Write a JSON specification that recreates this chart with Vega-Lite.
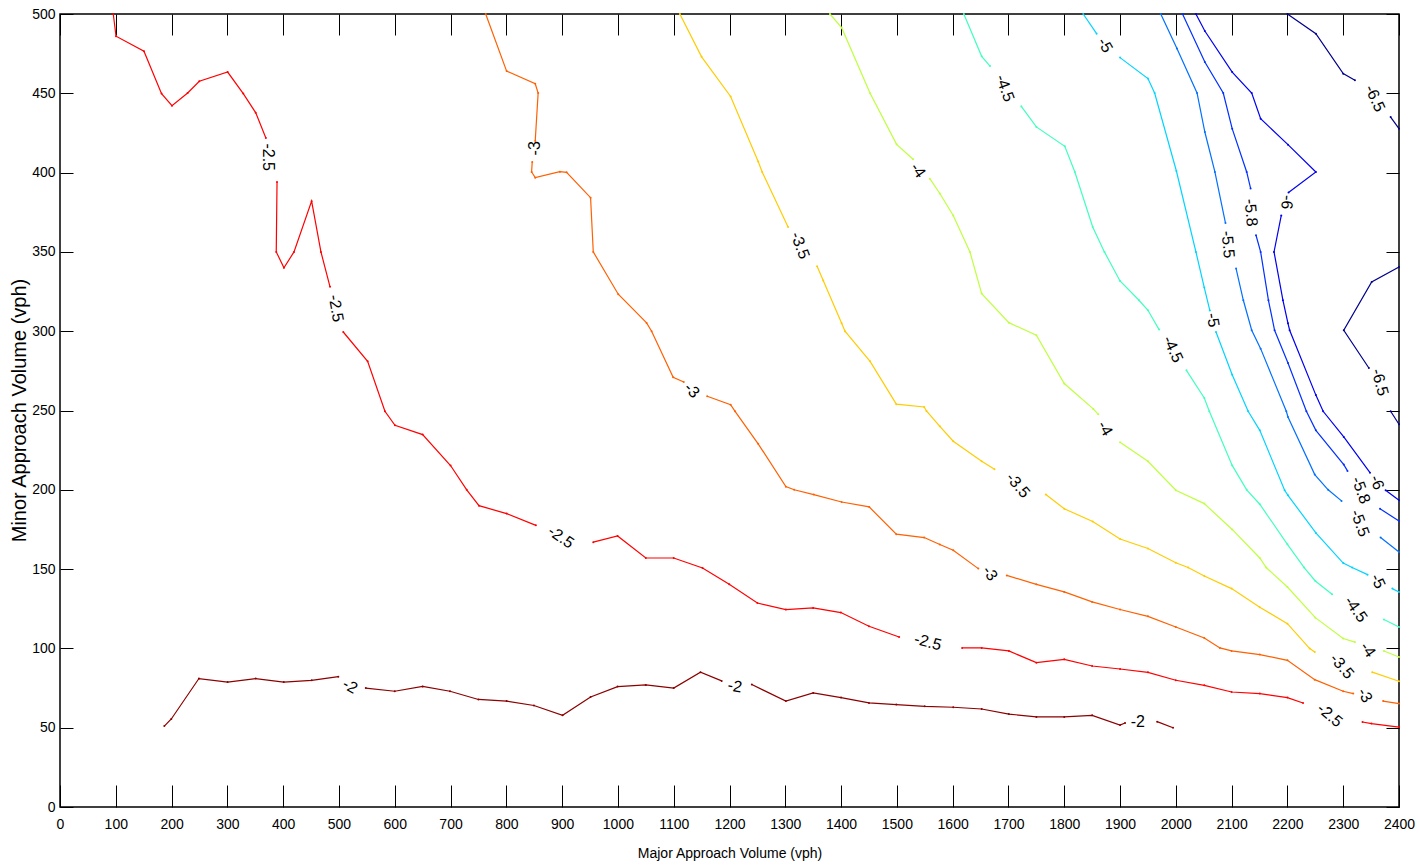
{
"$schema": "https://vega.github.io/schema/vega-lite/v6.json",
"width": 1339, "height": 793,
"autosize": {"type": "none"},
"padding": {"left": 60, "top": 14, "right": 21, "bottom": 60},
"background": "white",
"config": {"view": {"stroke": "black", "strokeWidth": 1.5}, "axis": {"grid": false, "domain": false, "tickColor": "black", "tickWidth": 1, "labelColor": "black", "titleColor": "black", "titleFontWeight": "normal"}},
"datasets": {
"lines": [
{"lv":"-2","s":"a","i":0,"x":187,"y":51},{"lv":"-2","s":"a","i":1,"x":199.5,"y":55.5},{"lv":"-2","s":"a","i":2,"x":249,"y":81},{"lv":"-2","s":"a","i":3,"x":300.5,"y":78.8},{"lv":"-2","s":"a","i":4,"x":350.7,"y":81},{"lv":"-2","s":"a","i":5,"x":401,"y":78.8},{"lv":"-2","s":"a","i":6,"x":451,"y":79.9},{"lv":"-2","s":"a","i":7,"x":498.8,"y":82.2},
{"lv":"-2","s":"b","i":0,"x":548,"y":75},{"lv":"-2","s":"b","i":1,"x":600,"y":73},{"lv":"-2","s":"b","i":2,"x":650,"y":76},{"lv":"-2","s":"b","i":3,"x":699,"y":73},{"lv":"-2","s":"b","i":4,"x":750,"y":67.8},{"lv":"-2","s":"b","i":5,"x":800.5,"y":66.8},{"lv":"-2","s":"b","i":6,"x":849.5,"y":64},{"lv":"-2","s":"b","i":7,"x":900.8,"y":57.8},{"lv":"-2","s":"b","i":8,"x":951,"y":69.4},{"lv":"-2","s":"b","i":9,"x":999.4,"y":75.9},{"lv":"-2","s":"b","i":10,"x":1050,"y":77},{"lv":"-2","s":"b","i":11,"x":1100,"y":75},{"lv":"-2","s":"b","i":12,"x":1148,"y":85},{"lv":"-2","s":"b","i":13,"x":1186,"y":79.5},
{"lv":"-2","s":"c","i":0,"x":1240,"y":77.2},{"lv":"-2","s":"c","i":1,"x":1301,"y":66.8},{"lv":"-2","s":"c","i":2,"x":1350,"y":71.9},{"lv":"-2","s":"c","i":3,"x":1400,"y":69},{"lv":"-2","s":"c","i":4,"x":1450,"y":65.6},{"lv":"-2","s":"c","i":5,"x":1499,"y":64.6},{"lv":"-2","s":"c","i":6,"x":1550,"y":63.5},{"lv":"-2","s":"c","i":7,"x":1601,"y":62.9},{"lv":"-2","s":"c","i":8,"x":1652,"y":61.8},{"lv":"-2","s":"c","i":9,"x":1700.7,"y":58.6},{"lv":"-2","s":"c","i":10,"x":1750,"y":56.8},{"lv":"-2","s":"c","i":11,"x":1800,"y":56.8},{"lv":"-2","s":"c","i":12,"x":1850,"y":57.8},{"lv":"-2","s":"c","i":13,"x":1900,"y":51.7},{"lv":"-2","s":"c","i":14,"x":1909,"y":53},
{"lv":"-2","s":"d","i":0,"x":1966.5,"y":53.8},{"lv":"-2","s":"d","i":1,"x":1995,"y":50},

{"lv":"-2.5","s":"a","i":0,"x":95.5,"y":500},{"lv":"-2.5","s":"a","i":1,"x":100.4,"y":486},{"lv":"-2.5","s":"a","i":2,"x":150.5,"y":476.5},{"lv":"-2.5","s":"a","i":3,"x":182,"y":449.8},{"lv":"-2.5","s":"a","i":4,"x":200.7,"y":442.2},{"lv":"-2.5","s":"a","i":5,"x":228.8,"y":450.2},{"lv":"-2.5","s":"a","i":6,"x":249.7,"y":457.6},{"lv":"-2.5","s":"a","i":7,"x":300.5,"y":463.4},{"lv":"-2.5","s":"a","i":8,"x":328.5,"y":449.8},{"lv":"-2.5","s":"a","i":9,"x":350.7,"y":437.8},{"lv":"-2.5","s":"a","i":10,"x":369,"y":421.8},
{"lv":"-2.5","s":"b","i":0,"x":389,"y":394},{"lv":"-2.5","s":"b","i":1,"x":387.6,"y":350},{"lv":"-2.5","s":"b","i":2,"x":401.4,"y":340},{"lv":"-2.5","s":"b","i":3,"x":419.4,"y":350},{"lv":"-2.5","s":"b","i":4,"x":451,"y":382},{"lv":"-2.5","s":"b","i":5,"x":467.7,"y":350},{"lv":"-2.5","s":"b","i":6,"x":484,"y":328},
{"lv":"-2.5","s":"c","i":0,"x":507.7,"y":299.5},{"lv":"-2.5","s":"c","i":1,"x":551.4,"y":281},{"lv":"-2.5","s":"c","i":2,"x":582.4,"y":249.5},{"lv":"-2.5","s":"c","i":3,"x":600.4,"y":240.7},{"lv":"-2.5","s":"c","i":4,"x":650,"y":234.8},{"lv":"-2.5","s":"c","i":5,"x":700,"y":215.3},{"lv":"-2.5","s":"c","i":6,"x":729,"y":200},{"lv":"-2.5","s":"c","i":7,"x":751,"y":190},{"lv":"-2.5","s":"c","i":8,"x":800.5,"y":185},{"lv":"-2.5","s":"c","i":9,"x":853,"y":177.6},
{"lv":"-2.5","s":"d","i":0,"x":955.8,"y":167},{"lv":"-2.5","s":"d","i":1,"x":999.4,"y":170.9},{"lv":"-2.5","s":"d","i":2,"x":1050,"y":157},{"lv":"-2.5","s":"d","i":3,"x":1100,"y":157},{"lv":"-2.5","s":"d","i":4,"x":1151.7,"y":150.7},{"lv":"-2.5","s":"d","i":5,"x":1199.5,"y":140.4},{"lv":"-2.5","s":"d","i":6,"x":1250,"y":128.6},{"lv":"-2.5","s":"d","i":7,"x":1301,"y":124.5},{"lv":"-2.5","s":"d","i":8,"x":1350,"y":125.5},{"lv":"-2.5","s":"d","i":9,"x":1399.6,"y":122.6},{"lv":"-2.5","s":"d","i":10,"x":1450,"y":114},{"lv":"-2.5","s":"d","i":11,"x":1504,"y":107.2},
{"lv":"-2.5","s":"e","i":0,"x":1617,"y":100.3},{"lv":"-2.5","s":"e","i":1,"x":1652,"y":100.3},{"lv":"-2.5","s":"e","i":2,"x":1700.7,"y":98.4},{"lv":"-2.5","s":"e","i":3,"x":1750,"y":91},{"lv":"-2.5","s":"e","i":4,"x":1800,"y":93.1},{"lv":"-2.5","s":"e","i":5,"x":1850,"y":88.9},{"lv":"-2.5","s":"e","i":6,"x":1900,"y":87},{"lv":"-2.5","s":"e","i":7,"x":1950,"y":84.9},{"lv":"-2.5","s":"e","i":8,"x":2000,"y":79.9},{"lv":"-2.5","s":"e","i":9,"x":2051,"y":76.7},{"lv":"-2.5","s":"e","i":10,"x":2100,"y":72.5},{"lv":"-2.5","s":"e","i":11,"x":2150.5,"y":71.5},{"lv":"-2.5","s":"e","i":12,"x":2200,"y":69},{"lv":"-2.5","s":"e","i":13,"x":2228,"y":65.6},
{"lv":"-2.5","s":"f","i":0,"x":2334.6,"y":53.6},{"lv":"-2.5","s":"f","i":1,"x":2350.7,"y":52.6},{"lv":"-2.5","s":"f","i":2,"x":2400,"y":50.4},

{"lv":"-3","s":"a","i":0,"x":763,"y":500},{"lv":"-3","s":"a","i":1,"x":800.5,"y":464},{"lv":"-3","s":"a","i":2,"x":851.8,"y":456},{"lv":"-3","s":"a","i":3,"x":857,"y":450.2},{"lv":"-3","s":"a","i":4,"x":851.8,"y":420},
{"lv":"-3","s":"b","i":0,"x":846.4,"y":406.7},{"lv":"-3","s":"b","i":1,"x":845.3,"y":400.4},{"lv":"-3","s":"b","i":2,"x":851.8,"y":396.8},{"lv":"-3","s":"b","i":3,"x":896,"y":400.6},{"lv":"-3","s":"b","i":4,"x":908,"y":400.2},{"lv":"-3","s":"b","i":5,"x":951,"y":384.2},{"lv":"-3","s":"b","i":6,"x":955.8,"y":350},{"lv":"-3","s":"b","i":7,"x":1000.6,"y":323.3},{"lv":"-3","s":"b","i":8,"x":1051.4,"y":305.2},{"lv":"-3","s":"b","i":9,"x":1060.4,"y":300},{"lv":"-3","s":"b","i":10,"x":1099,"y":271},{"lv":"-3","s":"b","i":11,"x":1118,"y":268},
{"lv":"-3","s":"c","i":0,"x":1160,"y":259},{"lv":"-3","s":"c","i":1,"x":1202,"y":253.7},{"lv":"-3","s":"c","i":2,"x":1210,"y":249.5},{"lv":"-3","s":"c","i":3,"x":1251.4,"y":229},{"lv":"-3","s":"c","i":4,"x":1301,"y":202},{"lv":"-3","s":"c","i":5,"x":1316,"y":200},{"lv":"-3","s":"c","i":6,"x":1351,"y":197},{"lv":"-3","s":"c","i":7,"x":1401,"y":192.3},{"lv":"-3","s":"c","i":8,"x":1450.4,"y":189.2},{"lv":"-3","s":"c","i":9,"x":1499,"y":172},{"lv":"-3","s":"c","i":10,"x":1549,"y":169.9},{"lv":"-3","s":"c","i":11,"x":1577,"y":165.5},{"lv":"-3","s":"c","i":12,"x":1601,"y":161.9},{"lv":"-3","s":"c","i":13,"x":1646,"y":150.3},
{"lv":"-3","s":"d","i":0,"x":1697,"y":146},{"lv":"-3","s":"d","i":1,"x":1750,"y":140.4},{"lv":"-3","s":"d","i":2,"x":1800,"y":135.6},{"lv":"-3","s":"d","i":3,"x":1850,"y":129.3},{"lv":"-3","s":"d","i":4,"x":1900,"y":124.5},{"lv":"-3","s":"d","i":5,"x":1950,"y":120.2},{"lv":"-3","s":"d","i":6,"x":2000,"y":113.5},{"lv":"-3","s":"d","i":7,"x":2051,"y":106.6},{"lv":"-3","s":"d","i":8,"x":2079,"y":100.3},{"lv":"-3","s":"d","i":9,"x":2100,"y":98.4},{"lv":"-3","s":"d","i":10,"x":2150.5,"y":96.1},{"lv":"-3","s":"d","i":11,"x":2200,"y":92.5},{"lv":"-3","s":"d","i":12,"x":2249,"y":80.3},{"lv":"-3","s":"d","i":13,"x":2300,"y":73},{"lv":"-3","s":"d","i":14,"x":2318,"y":71.5},
{"lv":"-3","s":"e","i":0,"x":2371.5,"y":66.8},{"lv":"-3","s":"e","i":1,"x":2400,"y":65.2},

{"lv":"-3.5","s":"a","i":0,"x":1111,"y":500},{"lv":"-3.5","s":"a","i":1,"x":1150,"y":473},{"lv":"-3.5","s":"a","i":2,"x":1202,"y":448},{"lv":"-3.5","s":"a","i":3,"x":1251.4,"y":407},{"lv":"-3.5","s":"a","i":4,"x":1258.6,"y":400.4},{"lv":"-3.5","s":"a","i":5,"x":1305,"y":365.7},
{"lv":"-3.5","s":"b","i":0,"x":1357,"y":341},{"lv":"-3.5","s":"b","i":1,"x":1368,"y":332},{"lv":"-3.5","s":"b","i":2,"x":1401,"y":305},{"lv":"-3.5","s":"b","i":3,"x":1407,"y":300},{"lv":"-3.5","s":"b","i":4,"x":1452,"y":281},{"lv":"-3.5","s":"b","i":5,"x":1499,"y":254},{"lv":"-3.5","s":"b","i":6,"x":1549,"y":252.2},{"lv":"-3.5","s":"b","i":7,"x":1553,"y":249.7},{"lv":"-3.5","s":"b","i":8,"x":1577,"y":240},{"lv":"-3.5","s":"b","i":9,"x":1601,"y":230.6},{"lv":"-3.5","s":"b","i":10,"x":1652,"y":218},{"lv":"-3.5","s":"b","i":11,"x":1675,"y":213},
{"lv":"-3.5","s":"c","i":0,"x":1767,"y":197},{"lv":"-3.5","s":"c","i":1,"x":1800,"y":188},{"lv":"-3.5","s":"c","i":2,"x":1851,"y":180},{"lv":"-3.5","s":"c","i":3,"x":1900,"y":169},{"lv":"-3.5","s":"c","i":4,"x":1950,"y":163},{"lv":"-3.5","s":"c","i":5,"x":2000,"y":154},{"lv":"-3.5","s":"c","i":6,"x":2022,"y":151},{"lv":"-3.5","s":"c","i":7,"x":2051,"y":145.7},{"lv":"-3.5","s":"c","i":8,"x":2100,"y":137.7},{"lv":"-3.5","s":"c","i":9,"x":2150.5,"y":126},{"lv":"-3.5","s":"c","i":10,"x":2200,"y":115.6},{"lv":"-3.5","s":"c","i":11,"x":2240,"y":99.9},{"lv":"-3.5","s":"c","i":12,"x":2249,"y":97.7},
{"lv":"-3.5","s":"d","i":0,"x":2352,"y":85},{"lv":"-3.5","s":"d","i":1,"x":2400,"y":79.3},

{"lv":"-4","s":"a","i":0,"x":1380,"y":500},{"lv":"-4","s":"a","i":1,"x":1401,"y":491.4},{"lv":"-4","s":"a","i":2,"x":1452,"y":450},{"lv":"-4","s":"a","i":3,"x":1499.5,"y":417.8},{"lv":"-4","s":"a","i":4,"x":1529,"y":408.4},
{"lv":"-4","s":"b","i":0,"x":1559,"y":396.2},{"lv":"-4","s":"b","i":1,"x":1577,"y":386.8},{"lv":"-4","s":"b","i":2,"x":1601,"y":373},{"lv":"-4","s":"b","i":3,"x":1631,"y":350},{"lv":"-4","s":"b","i":4,"x":1652,"y":323.7},{"lv":"-4","s":"b","i":5,"x":1700.7,"y":305.4},{"lv":"-4","s":"b","i":6,"x":1750,"y":297.4},{"lv":"-4","s":"b","i":7,"x":1800,"y":267},{"lv":"-4","s":"b","i":8,"x":1852,"y":251},{"lv":"-4","s":"b","i":9,"x":1861,"y":247.6},
{"lv":"-4","s":"c","i":0,"x":1900,"y":230},{"lv":"-4","s":"c","i":1,"x":1950,"y":218},{"lv":"-4","s":"c","i":2,"x":2000,"y":199.7},{"lv":"-4","s":"c","i":3,"x":2051,"y":191.3},{"lv":"-4","s":"c","i":4,"x":2101,"y":175},{"lv":"-4","s":"c","i":5,"x":2150.5,"y":157},{"lv":"-4","s":"c","i":6,"x":2162,"y":151},{"lv":"-4","s":"c","i":7,"x":2200,"y":138.7},{"lv":"-4","s":"c","i":8,"x":2250,"y":119.4},{"lv":"-4","s":"c","i":9,"x":2300,"y":106.2},{"lv":"-4","s":"c","i":10,"x":2321,"y":104},
{"lv":"-4","s":"d","i":0,"x":2373,"y":98.4},{"lv":"-4","s":"d","i":1,"x":2400,"y":94.6},

{"lv":"-4.5","s":"a","i":0,"x":1620,"y":500},{"lv":"-4.5","s":"a","i":1,"x":1652,"y":473.3},{"lv":"-4.5","s":"a","i":2,"x":1667,"y":467.2},
{"lv":"-4.5","s":"b","i":0,"x":1723,"y":441.8},{"lv":"-4.5","s":"b","i":1,"x":1750,"y":428.8},{"lv":"-4.5","s":"b","i":2,"x":1801,"y":416.6},{"lv":"-4.5","s":"b","i":3,"x":1819,"y":400.4},{"lv":"-4.5","s":"b","i":4,"x":1851,"y":365.7},{"lv":"-4.5","s":"b","i":5,"x":1872,"y":350},{"lv":"-4.5","s":"b","i":6,"x":1900,"y":331.7},{"lv":"-4.5","s":"b","i":7,"x":1934,"y":319.5},{"lv":"-4.5","s":"b","i":8,"x":1950,"y":313.2},{"lv":"-4.5","s":"b","i":9,"x":1970,"y":301},
{"lv":"-4.5","s":"c","i":0,"x":2019,"y":275.3},{"lv":"-4.5","s":"c","i":1,"x":2051,"y":257.9},{"lv":"-4.5","s":"c","i":2,"x":2060,"y":249.5},{"lv":"-4.5","s":"c","i":3,"x":2101,"y":215.4},{"lv":"-4.5","s":"c","i":4,"x":2127,"y":200},{"lv":"-4.5","s":"c","i":5,"x":2150.5,"y":190.9},{"lv":"-4.5","s":"c","i":6,"x":2200,"y":165.6},{"lv":"-4.5","s":"c","i":7,"x":2230,"y":151},{"lv":"-4.5","s":"c","i":8,"x":2250,"y":142.5},{"lv":"-4.5","s":"c","i":9,"x":2280,"y":134.1},
{"lv":"-4.5","s":"d","i":0,"x":2373,"y":118.2},{"lv":"-4.5","s":"d","i":1,"x":2400,"y":113.5},

{"lv":"-5","s":"a","i":0,"x":1834,"y":500},{"lv":"-5","s":"a","i":1,"x":1858,"y":487.6},
{"lv":"-5","s":"b","i":0,"x":1900,"y":472.5},{"lv":"-5","s":"b","i":1,"x":1950,"y":459.3},{"lv":"-5","s":"b","i":2,"x":1962,"y":450.2},{"lv":"-5","s":"b","i":3,"x":2001,"y":401},{"lv":"-5","s":"b","i":4,"x":2036,"y":350},{"lv":"-5","s":"b","i":5,"x":2051,"y":327.5},{"lv":"-5","s":"b","i":6,"x":2061,"y":313},
{"lv":"-5","s":"c","i":0,"x":2072,"y":299.5},{"lv":"-5","s":"c","i":1,"x":2101,"y":272.6},{"lv":"-5","s":"c","i":2,"x":2129.6,"y":249.5},{"lv":"-5","s":"c","i":3,"x":2150.5,"y":237.5},{"lv":"-5","s":"c","i":4,"x":2195,"y":199.7},{"lv":"-5","s":"c","i":5,"x":2201,"y":196.5},{"lv":"-5","s":"c","i":6,"x":2251,"y":172.8},{"lv":"-5","s":"c","i":7,"x":2300,"y":153.8},{"lv":"-5","s":"c","i":8,"x":2316,"y":151},{"lv":"-5","s":"c","i":9,"x":2343.6,"y":146.5},
{"lv":"-5","s":"d","i":0,"x":2388,"y":137.7},{"lv":"-5","s":"d","i":1,"x":2400,"y":135.6},

{"lv":"-5.5","s":"a","i":0,"x":1973,"y":500},{"lv":"-5.5","s":"a","i":1,"x":2002,"y":478.2},{"lv":"-5.5","s":"a","i":2,"x":2038,"y":450.2},{"lv":"-5.5","s":"a","i":3,"x":2052,"y":425.6},{"lv":"-5.5","s":"a","i":4,"x":2070,"y":400.4},{"lv":"-5.5","s":"a","i":5,"x":2089,"y":368.2},
{"lv":"-5.5","s":"b","i":0,"x":2108,"y":339.5},{"lv":"-5.5","s":"b","i":1,"x":2121,"y":319.5},{"lv":"-5.5","s":"b","i":2,"x":2136,"y":300.6},{"lv":"-5.5","s":"b","i":3,"x":2152,"y":289},{"lv":"-5.5","s":"b","i":4,"x":2198,"y":249.5},{"lv":"-5.5","s":"b","i":5,"x":2201,"y":245.9},{"lv":"-5.5","s":"b","i":6,"x":2249,"y":209.6},{"lv":"-5.5","s":"b","i":7,"x":2273,"y":200},{"lv":"-5.5","s":"b","i":8,"x":2297,"y":193},
{"lv":"-5.5","s":"c","i":0,"x":2367,"y":169.9},{"lv":"-5.5","s":"c","i":1,"x":2400,"y":160.8},

{"lv":"-5.8","s":"a","i":0,"x":2012,"y":500},{"lv":"-5.8","s":"a","i":1,"x":2052,"y":469.7},{"lv":"-5.8","s":"a","i":2,"x":2085,"y":450.2},{"lv":"-5.8","s":"a","i":3,"x":2101,"y":427.7},{"lv":"-5.8","s":"a","i":4,"x":2127,"y":400.4},{"lv":"-5.8","s":"a","i":5,"x":2134,"y":390},
{"lv":"-5.8","s":"b","i":0,"x":2143.7,"y":360.5},{"lv":"-5.8","s":"b","i":1,"x":2152,"y":350},{"lv":"-5.8","s":"b","i":2,"x":2166,"y":319.5},{"lv":"-5.8","s":"b","i":3,"x":2177,"y":300.6},{"lv":"-5.8","s":"b","i":4,"x":2201,"y":280},{"lv":"-5.8","s":"b","i":5,"x":2234,"y":249.5},{"lv":"-5.8","s":"b","i":6,"x":2251,"y":237.5},{"lv":"-5.8","s":"b","i":7,"x":2301,"y":215.9},{"lv":"-5.8","s":"b","i":8,"x":2307.7,"y":211.9},
{"lv":"-5.8","s":"c","i":0,"x":2366,"y":188},{"lv":"-5.8","s":"c","i":1,"x":2400,"y":180.3},

{"lv":"-6","s":"a","i":0,"x":2036,"y":500},{"lv":"-6","s":"a","i":1,"x":2052,"y":489.3},{"lv":"-6","s":"a","i":2,"x":2101,"y":463.4},{"lv":"-6","s":"a","i":3,"x":2136,"y":450.2},{"lv":"-6","s":"a","i":4,"x":2152,"y":434},{"lv":"-6","s":"a","i":5,"x":2201,"y":417.6},{"lv":"-6","s":"a","i":6,"x":2251,"y":400.4},{"lv":"-6","s":"a","i":7,"x":2202,"y":387.4},
{"lv":"-6","s":"b","i":0,"x":2189,"y":373},{"lv":"-6","s":"b","i":1,"x":2176,"y":350},{"lv":"-6","s":"b","i":2,"x":2192,"y":319.5},{"lv":"-6","s":"b","i":3,"x":2201,"y":305},{"lv":"-6","s":"b","i":4,"x":2204,"y":300.6},{"lv":"-6","s":"b","i":5,"x":2251,"y":259.7},{"lv":"-6","s":"b","i":6,"x":2264,"y":249.5},{"lv":"-6","s":"b","i":7,"x":2301,"y":233.3},{"lv":"-6","s":"b","i":8,"x":2348,"y":210.8},
{"lv":"-6","s":"c","i":0,"x":2376,"y":199.7},{"lv":"-6","s":"c","i":1,"x":2400,"y":193.4},

{"lv":"-6.5","s":"a","i":0,"x":2200,"y":500},{"lv":"-6.5","s":"a","i":1,"x":2251,"y":487.6},{"lv":"-6.5","s":"a","i":2,"x":2300,"y":462.4},{"lv":"-6.5","s":"a","i":3,"x":2321,"y":458.2},
{"lv":"-6.5","s":"b","i":0,"x":2385,"y":435},{"lv":"-6.5","s":"b","i":1,"x":2400,"y":427.7},
{"lv":"-6.5","s":"c","i":0,"x":2400,"y":340.5},{"lv":"-6.5","s":"c","i":1,"x":2351,"y":331},{"lv":"-6.5","s":"c","i":2,"x":2301,"y":300.6},{"lv":"-6.5","s":"c","i":3,"x":2346,"y":276.8},
{"lv":"-6.5","s":"d","i":0,"x":2385,"y":249.5},{"lv":"-6.5","s":"d","i":1,"x":2400,"y":241.3}
],
"labels": [
{"lv":"-2","x":519.7,"y":76.1,"rot":30},
{"lv":"-2","x":1209.7,"y":76.1,"rot":10},
{"lv":"-2","x":1931.9,"y":53.4,"rot":0},
{"lv":"-2.5","x":372.8,"y":409.7,"rot":90},
{"lv":"-2.5","x":494.6,"y":314.4,"rot":80},
{"lv":"-2.5","x":897.8,"y":170.1,"rot":35},
{"lv":"-2.5","x":1555.6,"y":103.9,"rot":15},
{"lv":"-2.5","x":2276,"y":57.8,"rot":40},
{"lv":"-3","x":851.3,"y":415.3,"rot":-90},
{"lv":"-3","x":1132.6,"y":262.7,"rot":45},
{"lv":"-3","x":1666.7,"y":147.3,"rot":55},
{"lv":"-3","x":2338.7,"y":70.4,"rot":60},
{"lv":"-3.5","x":1326.2,"y":354.1,"rot":70},
{"lv":"-3.5","x":1716.8,"y":202.8,"rot":50},
{"lv":"-3.5","x":2297.5,"y":88.7,"rot":50},
{"lv":"-4","x":1537.6,"y":401.4,"rot":55},
{"lv":"-4","x":1872.8,"y":238.7,"rot":60},
{"lv":"-4","x":2344,"y":99.1,"rot":55},
{"lv":"-4.5","x":1693.5,"y":453.2,"rot":70},
{"lv":"-4.5","x":1994.6,"y":288.6,"rot":65},
{"lv":"-4.5","x":2322.6,"y":124.6,"rot":55},
{"lv":"-5","x":1872.8,"y":480.3,"rot":60},
{"lv":"-5","x":2066.3,"y":306.9,"rot":80},
{"lv":"-5","x":2362,"y":142.3,"rot":65},
{"lv":"-5.5","x":2093.2,"y":354.7,"rot":85},
{"lv":"-5.5","x":2329.7,"y":178.9,"rot":70},
{"lv":"-5.8","x":2134.4,"y":374.8,"rot":85},
{"lv":"-5.8","x":2331.5,"y":199.7,"rot":70},
{"lv":"-6","x":2198.9,"y":381.3,"rot":95},
{"lv":"-6","x":2360.2,"y":204.7,"rot":70},
{"lv":"-6.5","x":2356.6,"y":446.8,"rot":65},
{"lv":"-6.5","x":2365.6,"y":267.8,"rot":75}
]
},
"layer": [
{
"data": {"name": "lines"},
"mark": {"type": "line", "strokeWidth": 1.2, "point": {"filled": true, "size": 4}},
"encoding": {
"x": {"field": "x", "type": "quantitative", "scale": {"domain": [0, 2400], "nice": false, "zero": false},
 "axis": {"orient": "bottom", "offset": -22, "values": [0,100,200,300,400,500,600,700,800,900,1000,1100,1200,1300,1400,1500,1600,1700,1800,1900,2000,2100,2200,2300,2400], "format": "d", "tickSize": 22, "labelPadding": 10, "labelFont": "Liberation Sans", "labelFontSize": 14, "labelFlush": false, "labelOverlap": false,
 "title": "Major Approach Volume (vph)", "titleFont": "Liberation Sans", "titleFontSize": 14, "titleY": 68, "titleBaseline": "middle"}},
"y": {"field": "y", "type": "quantitative", "scale": {"domain": [0, 500], "nice": false, "zero": false},
 "axis": {"orient": "left", "offset": -13, "values": [0,50,100,150,200,250,300,350,400,450,500], "format": "d", "tickSize": 13, "labelPadding": 5, "labelFont": "Liberation Sans", "labelFontSize": 14, "labelFlush": false, "labelOverlap": false,
 "title": "Minor Approach Volume (vph)", "titleFont": "Liberation Sans", "titleFontSize": 20, "titleX": -54, "titleY": 396, "titleBaseline": "middle"}},
"color": {"field": "lv", "type": "nominal", "legend": null,
 "scale": {"domain": ["-2","-2.5","-3","-3.5","-4","-4.5","-5","-5.5","-5.8","-6","-6.5"],
 "range": ["#8B0000","#FF0000","#FF6000","#FFCC00","#BFFF40","#40FFBF","#00D4FF","#0070FF","#0030FF","#0000F0","#00008B"]}},
"detail": {"field": "s"},
"order": {"field": "i", "type": "quantitative"}
}
},
{
"data": {"name": "labels"},
"mark": {"type": "text", "font": "Liberation Sans", "fontSize": 16, "color": "black", "align": "center", "baseline": "middle"},
"encoding": {
"x": {"field": "x", "type": "quantitative", "scale": {"domain": [0, 2400], "nice": false, "zero": false},
 "axis": {"orient": "top", "offset": -21, "values": [0,100,200,300,400,500,600,700,800,900,1000,1100,1200,1300,1400,1500,1600,1700,1800,1900,2000,2100,2200,2300,2400], "tickSize": 21, "labels": false, "title": null}},
"y": {"field": "y", "type": "quantitative", "scale": {"domain": [0, 500], "nice": false, "zero": false},
 "axis": {"orient": "right", "offset": -13, "values": [0,50,100,150,200,250,300,350,400,450,500], "tickSize": 13, "labels": false, "title": null}},
"text": {"field": "lv"},
"angle": {"field": "rot", "type": "quantitative", "scale": null}
}
}
]
}
